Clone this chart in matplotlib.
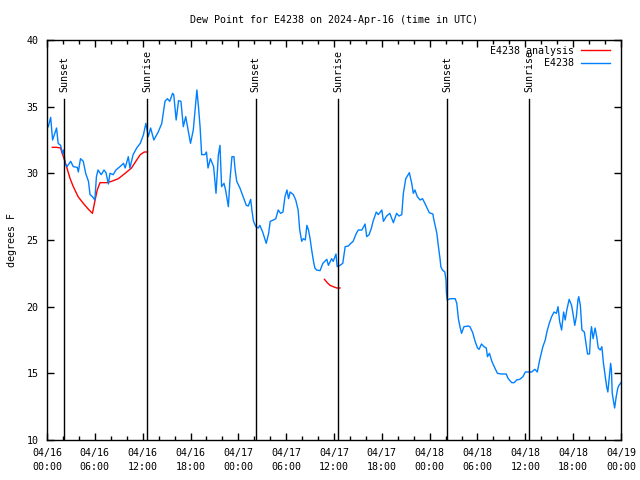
import matplotlib
matplotlib.use("Agg")
import matplotlib.pyplot as plt
import numpy as np
from matplotlib.transforms import blended_transform_factory

# ---------------- data ----------------
obs_hours = [0.16, 0.46, 0.7, 1.2, 1.4, 1.7, 1.97, 2.1, 2.26, 2.5, 2.97, 3.3, 3.8, 3.93, 4.2, 4.55,
             4.85, 5.2, 5.4, 5.7, 6.0, 6.2, 6.4, 6.8, 7.15, 7.4, 7.7, 7.9, 8.3, 8.65, 9.15, 9.6,
             9.8, 10.2, 10.4, 10.8, 11.25, 11.7, 12.1, 12.4, 12.7, 13.0, 13.4, 13.95, 14.4, 14.8,
             15.1, 15.4, 15.75, 15.9, 16.2, 16.5, 16.8, 17.1, 17.4, 17.7, 18.0, 18.35, 18.6, 18.8,
             19.0, 19.2, 19.4, 19.8, 20.0, 20.2, 20.5, 20.9, 21.2, 21.5, 21.7, 21.9, 22.2, 22.4,
             22.75, 22.95, 23.2, 23.45, 23.6, 23.8, 24.2, 24.6, 25.0, 25.25, 25.55, 25.7, 25.9,
             26.2, 26.5, 26.7, 27.05, 27.5, 27.8, 28.0, 28.4, 28.7, 29.0, 29.3, 29.6, 29.85, 30.1,
             30.3, 30.5, 30.9, 31.2, 31.5, 31.7, 31.95, 32.15, 32.4, 32.6, 32.8, 33.0, 33.2, 33.4,
             33.6, 33.8, 34.25, 34.6, 35.1, 35.3, 35.7, 35.9, 36.25, 36.4, 36.75, 37.1, 37.4, 37.8,
             38.1, 38.4, 38.8, 39.05, 39.5, 39.9, 40.1, 40.4, 40.7, 40.9, 41.3, 41.55, 42.0, 42.2,
             42.6, 43.0, 43.45, 43.85, 44.15, 44.5, 44.7, 45.0, 45.45, 45.75, 45.95, 46.15, 46.45,
             46.8, 47.1, 47.4, 47.95, 48.4, 48.5, 48.9, 49.1, 49.3, 49.4, 49.6, 49.9, 50.05, 50.1,
             50.2, 50.6, 51.2, 51.4, 51.6, 51.8, 52.0, 52.3, 52.85, 53.05, 53.4, 53.7, 54.0, 54.2,
             54.5, 54.8, 55.1, 55.25, 55.5, 55.8, 56.1, 56.5, 57.0, 57.6, 57.85, 58.3, 58.6, 58.9,
             59.3, 59.7, 60.0, 60.6, 60.8, 61.2, 61.5, 61.8, 62.2, 62.5, 62.7, 63.0, 63.3, 63.6,
             63.9, 64.1, 64.3, 64.55, 64.8, 65.0, 65.2, 65.5, 65.8, 66.0, 66.2, 66.4, 66.6, 66.7,
             66.9, 67.1, 67.4, 67.6, 67.8, 68.05, 68.2, 68.3, 68.5, 68.75, 68.95, 69.15, 69.4, 69.6,
             69.8, 70.0, 70.2, 70.35, 70.5, 70.7, 70.8, 70.9, 71.1, 71.2, 71.4, 71.6, 71.75, 72.0]
obs_values = [33.5, 34.2, 32.5, 33.4, 32.25, 32.1, 31.5, 31.75, 30.75, 30.5, 30.9, 30.5, 30.45, 30.1,
              31.1, 30.9, 30.0, 29.4, 28.4, 28.25, 28.0, 29.75, 30.25, 29.9, 30.25, 30.05, 29.2,
              30.0, 29.9, 30.25, 30.5, 30.75, 30.4, 31.25, 30.4, 31.4, 31.9, 32.25, 32.9, 33.75,
              32.75, 33.4, 32.5, 33.1, 33.75, 35.4, 35.6, 35.4, 36.0, 35.9, 34.0, 35.45, 35.4, 33.5,
              34.25, 33.25, 32.25, 33.25, 34.9, 36.25, 35.0, 33.5, 31.4, 31.4, 31.6, 30.4, 31.1,
              30.5, 28.5, 31.4, 32.1, 29.0, 29.25, 28.75, 27.5, 29.5, 31.25, 31.25, 30.25, 29.4,
              28.9, 28.25, 27.6, 27.55, 28.05, 27.25, 26.4, 26.0, 25.9, 26.1, 25.6, 24.75, 25.5,
              26.4, 26.5, 26.6, 27.25, 27.0, 27.1, 28.25, 28.75, 28.1, 28.6, 28.4, 28.0, 27.25,
              25.75, 24.9, 25.1, 25.0, 26.1, 25.75, 25.1, 24.25, 23.5, 22.9, 22.75, 22.7, 23.25,
              23.55, 23.1, 23.6, 23.4, 23.95, 23.0, 23.1, 23.25, 24.5, 24.55, 24.75, 24.9, 25.5,
              25.75, 25.75, 26.2, 25.25, 25.4, 25.9, 26.4, 27.1, 26.9, 27.25, 26.4, 26.8, 27.0,
              26.3, 27.0, 26.8, 26.9, 28.5, 29.6, 30.05, 29.25, 28.5, 28.75, 28.25, 28.0, 28.1,
              27.75, 27.05, 26.95, 26.6, 25.5, 24.5, 23.6, 23.0, 22.75, 22.6, 22.0, 21.05, 20.5,
              20.6, 20.6, 20.25, 19.1, 18.5, 18.0, 18.5, 18.55, 18.5, 18.05, 17.4, 16.9, 16.8, 17.2,
              17.0, 16.9, 16.25, 16.5, 15.9, 15.5, 15.0, 14.95, 14.95, 14.6, 14.3, 14.3, 14.5,
              14.55, 14.75, 15.1, 15.1, 15.1, 15.3, 15.1, 16.0, 17.0, 17.5, 18.1, 18.75, 19.25,
              19.6, 19.5, 20.0, 18.9, 18.25, 19.6, 19.0, 19.75, 20.55, 20.1, 19.4, 18.6, 19.25,
              20.5, 20.75, 20.1, 18.25, 18.1, 17.25, 16.45, 16.45, 18.0, 18.5, 17.6, 18.4, 17.75,
              16.9, 16.75, 17.0, 15.75, 14.9, 14.0, 13.6, 14.5, 15.75, 15.25, 13.5, 12.75, 12.4,
              13.25, 13.9, 14.1, 14.3]

ana_hours = [0.67, 1.2, 1.7, 1.85, 2.05, 2.25, 2.5, 2.9, 3.3, 3.9, 4.55, 5.2, 5.7, 6.0, 6.3, 6.65,
             7.5, 8.1, 8.95, 9.8, 10.6, 11.25, 11.7, 12.2, 12.6,
             np.nan,
             34.8, 35.15, 35.5, 35.9, 36.35, 36.75]
ana_values = [31.95, 31.95, 31.9, 31.6, 31.25, 30.9, 30.4, 29.6, 29.0, 28.25, 27.75, 27.3, 27.0,
              27.9, 28.75, 29.3, 29.3, 29.4, 29.6, 30.0, 30.4, 31.0, 31.4, 31.6, 31.6,
              np.nan,
              22.05, 21.8, 21.6, 21.5, 21.4, 21.4]

sun_hours = [2.15, 12.55, 26.2, 36.55, 50.2, 60.5]
sun_labels = ["Sunset", "Sunrise", "Sunset", "Sunrise", "Sunset", "Sunrise"]

xtick_hours = [0, 6, 12, 18, 24, 30, 36, 42, 48, 54, 60, 66, 72]
xtick_labels = ["04/16\n00:00", "04/16\n06:00", "04/16\n12:00", "04/16\n18:00",
                "04/17\n00:00", "04/17\n06:00", "04/17\n12:00", "04/17\n18:00",
                "04/18\n00:00", "04/18\n06:00", "04/18\n12:00", "04/18\n18:00",
                "04/19\n00:00"]
yticks = [10, 15, 20, 25, 30, 35, 40]

# ---------------- plot ----------------
plt.rcParams['font.family'] = ['DejaVu Sans Mono']
FS = 7.2

fig = plt.figure(figsize=(6.4, 4.8), dpi=100)
ax = fig.add_axes([47/640, 40/480, 574/640, 400/480])

ax.plot(ana_hours, ana_values, color='#ff0000', lw=1.0, label='E4238 analysis')
ax.plot(obs_hours, obs_values, color='#0080ff', lw=1.0, label='E4238')

trans = blended_transform_factory(ax.transData, ax.transAxes)
for h, lab in zip(sun_hours, sun_labels):
    ax.axvline(h, ymin=0, ymax=0.8525, color='black', lw=1.0)
    ax.text(h, 0.87, lab, rotation=90, transform=trans, ha='center', va='bottom', fontsize=FS)

ax.set_xlim(0, 72)
ax.set_ylim(10, 40)
ax.set_xticks(xtick_hours)
ax.set_xticklabels(xtick_labels, fontsize=FS, linespacing=1.5)
ax.set_xticks(np.arange(0, 73, 2), minor=True)
ax.set_yticks(yticks)
ax.set_yticklabels([str(v) for v in yticks], fontsize=FS)

ax.tick_params(which='both', direction='in', top=True, right=True, colors='black')
ax.tick_params(which='major', length=5, width=1, pad=6)
ax.tick_params(which='minor', length=3, width=1)
for s in ax.spines.values():
    s.set_linewidth(1.0)

ax.set_title("Dew Point for E4238 on 2024-Apr-16 (time in UTC)", fontsize=FS, pad=12)
ax.set_ylabel("degrees F", fontsize=FS, labelpad=7)

leg = ax.legend(loc='upper right', bbox_to_anchor=(1 - 11/574, 1 - 6/400), borderaxespad=0,
                borderpad=0, frameon=False, markerfirst=False, fontsize=FS,
                handlelength=2.9, handletextpad=0.7, labelspacing=0.25)

fig.savefig("out.png", dpi=100)
